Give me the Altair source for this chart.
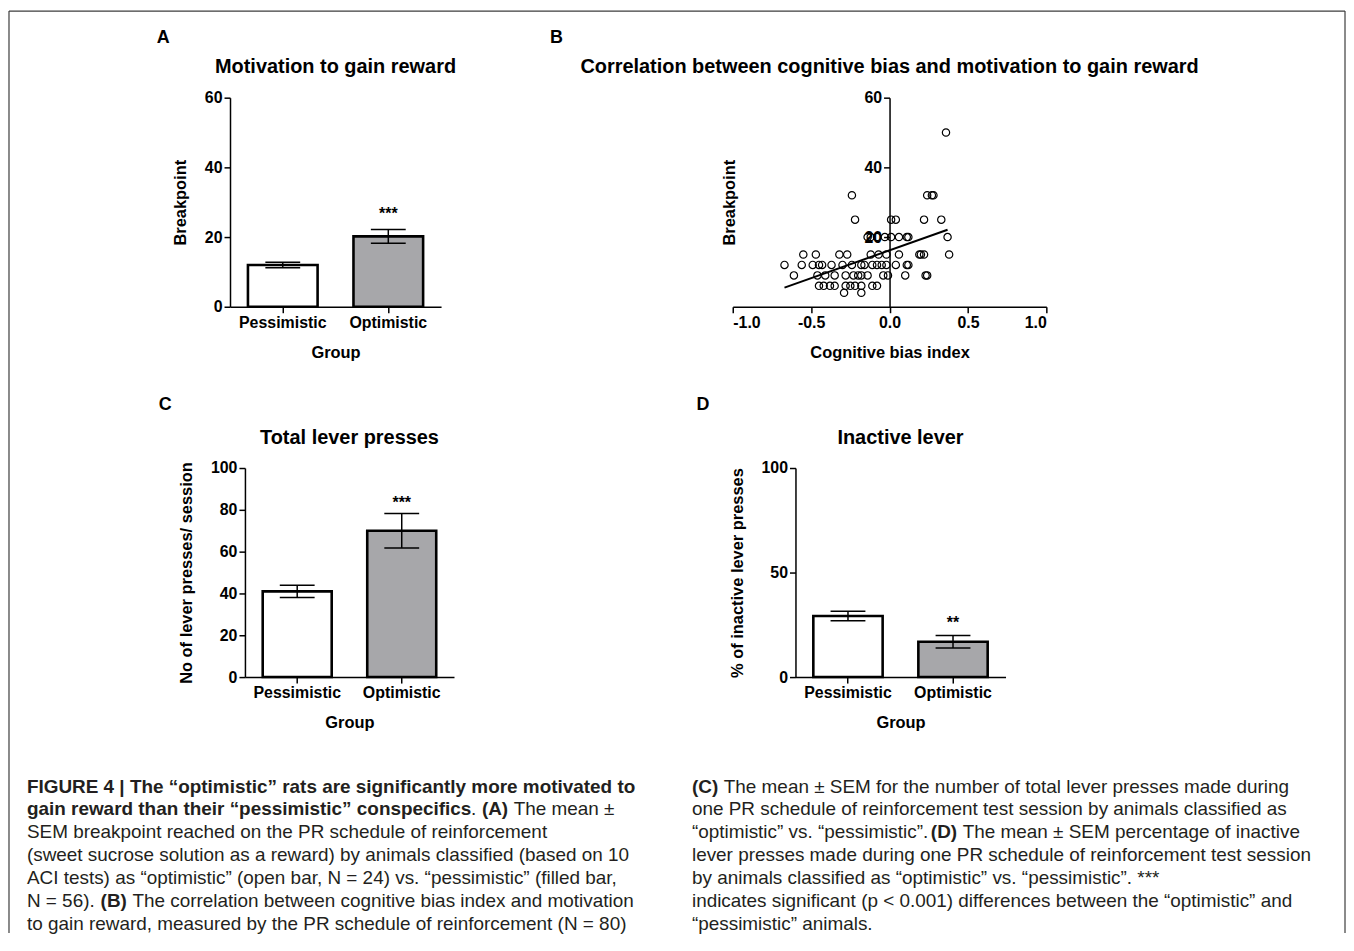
import altair as alt
import pandas as pd

FONT = "Liberation Sans"
INK = "black"
CAP_INK = "#231f20"
FRAME_INK = "#3c3c3c"

# ---------------- data ----------------
groups = ["Pessimistic", "Optimistic"]
bar_fills = ["#ffffff", "#a7a7aa"]

# A: Motivation to gain reward (breakpoint)
a_mean = [12.0, 20.2]
a_sem = [0.8, 2.0]
a_star_text = ["***"]
a_star_y = [27.6]

# C: Total lever presses
c_mean = [41.0, 70.0]
c_sem = [2.9, 8.2]
c_star_text = ["***"]
c_star_y = [84.5]

# D: Inactive lever (%)
d_mean = [29.2, 16.9]
d_sem = [2.3, 3.0]
d_star_text = ["**"]
d_star_y = [27.2]

# B: cognitive bias index vs breakpoint
bias_index = [
    0.36,
    -0.24, 0.24, 0.27, 0.28,
    -0.22, 0.01, 0.04, 0.22, 0.33,
    -0.14, -0.12, -0.08, -0.03, 0.01, 0.06, 0.11, 0.12, 0.37,
    -0.55, -0.47, -0.32, -0.27, -0.12, -0.07, -0.02, 0.06, 0.19, 0.20, 0.22, 0.38,
    -0.67, -0.56, -0.49, -0.45, -0.43, -0.37, -0.30, -0.24, -0.18, -0.16, -0.11, -0.08, -0.05, -0.02, 0.04, 0.11, 0.12,
    -0.61, -0.46, -0.41, -0.35, -0.28, -0.23, -0.20, -0.18, -0.14, -0.04, -0.01, 0.10, 0.23, 0.24,
    -0.45, -0.42, -0.38, -0.35, -0.28, -0.25, -0.22, -0.18, -0.11, -0.08,
    -0.29, -0.18,
]
breakpoint_vals = [
    50,
    32, 32, 32, 32,
    25, 25, 25, 25, 25,
    20, 20, 20, 20, 20, 20, 20, 20, 20,
    15, 15, 15, 15, 15, 15, 15, 15, 15, 15, 15, 15,
    12, 12, 12, 12, 12, 12, 12, 12, 12, 12, 12, 12, 12, 12, 12, 12, 12,
    9, 9, 9, 9, 9, 9, 9, 9, 9, 9, 9, 9, 9, 9,
    6, 6, 6, 6, 6, 6, 6, 6, 6, 6,
    4, 4,
]
fit_x = [-0.67, 0.37]
fit_y = [5.5, 22.1]

B_, N_ = "bold", "normal"
caption_left = [
    [("FIGURE 4 | The “optimistic” rats are significantly more motivated to", B_, 0)],
    [("gain reward than their “pessimistic” conspecifics", B_, 0), (".", N_, 446),
     ("(A)", B_, 457), ("The mean ±", N_, 489)],
    [("SEM breakpoint reached on the PR schedule of reinforcement", N_, 0)],
    [("(sweet sucrose solution as a reward) by animals classified (based on 10", N_, 0)],
    [("ACI tests) as “optimistic” (open bar, N = 24) vs. “pessimistic” (filled bar,", N_, 0)],
    [("N = 56).", N_, 0), ("(B)", B_, 74),
     ("The correlation between cognitive bias index and motivation", N_, 106)],
    [("to gain reward, measured by the PR schedule of reinforcement (N = 80)", N_, 0)],
]
caption_right = [
    [("(C)", B_, 0), ("The mean ± SEM for the number of total lever presses made during", N_, 32)],
    [("one PR schedule of reinforcement test session by animals classified as", N_, 0)],
    [("“optimistic” vs. “pessimistic”.", N_, 0), ("(D)", B_, 240),
     ("The mean ± SEM percentage of inactive", N_, 272)],
    [("lever presses made during one PR schedule of reinforcement test session", N_, 0)],
    [("by animals classified as “optimistic” vs. “pessimistic”. ***", N_, 0)],
    [("indicates significant (p < 0.001) differences between the “optimistic” and", N_, 0)],
    [("“pessimistic” animals.", N_, 0)],
]


def text_layer(text, tx, ty, size, align="center"):
    return alt.Chart(pd.DataFrame({"t": [text]})).mark_text(
        font=FONT, fontSize=size, fontWeight="bold", color=INK, align=align, baseline="middle"
    ).encode(text="t:N", x=alt.value(tx), y=alt.value(ty))


def bar_panel(means, sems, star_text, star_y, ymax, yvalues, ytitle, title, letter, lx, ly,
              width, ty):
    df = pd.DataFrame({"group": groups, "mean": means, "sem": sems})
    base = alt.Chart(df).transform_calculate(lo="datum.mean - datum.sem", hi="datum.mean + datum.sem")
    xax = alt.Axis(title="Group", labelAngle=0, titlePadding=14)
    xenc = alt.X("group:N", scale=alt.Scale(domain=groups, paddingInner=0.34, paddingOuter=0.17), axis=xax)
    yax = alt.Axis(title=ytitle, values=yvalues, titlePadding=16)
    ysc = alt.Scale(domain=[0, ymax], nice=False, zero=True)
    bars = base.mark_bar(stroke=INK, strokeWidth=2.6).encode(
        x=xenc, y=alt.Y("mean:Q", scale=ysc, axis=yax),
        fill=alt.Fill("group:N", scale=alt.Scale(domain=groups, range=bar_fills), legend=None))
    err = base.mark_rule(color=INK, strokeWidth=1.5).encode(
        x=xenc, y=alt.Y("lo:Q", scale=ysc, axis=yax), y2="hi:Q")
    cap_hi = base.mark_tick(color=INK, thickness=1.5, size=35, opacity=1).encode(
        x=xenc, y=alt.Y("hi:Q", scale=ysc, axis=yax))
    cap_lo = base.mark_tick(color=INK, thickness=1.5, size=35, opacity=1).encode(
        x=xenc, y=alt.Y("lo:Q", scale=ysc, axis=yax))
    sdf = pd.DataFrame({"group": ["Optimistic"], "sy": star_y, "t": star_text})
    stars = alt.Chart(sdf).mark_text(font=FONT, fontSize=16, fontWeight="bold", color=INK,
                                     baseline="middle", dy=3).encode(
        x=xenc, y=alt.Y("sy:Q", scale=ysc, axis=yax), text="t:N")
    return alt.layer(bars, err, cap_hi, cap_lo, stars,
                     text_layer(title, width / 2, ty, 20),
                     text_layer(letter, lx, ly, 18)).properties(width=width, height=210)


panel_a = bar_panel(a_mean, a_sem, a_star_text, a_star_y, 60, [0, 20, 40, 60], "Breakpoint",
                    "Motivation to gain reward", "A", -67, -60, 212, -31)
panel_c = bar_panel(c_mean, c_sem, c_star_text, c_star_y, 100, [0, 20, 40, 60, 80, 100],
                    "No of lever presses/ session", "Total lever presses", "C", -80, -63, 210, -30)
panel_d = bar_panel(d_mean, d_sem, d_star_text, d_star_y, 100, [0, 50, 100],
                    "% of inactive lever presses", "Inactive lever", "D", -93, -63, 211, -30)

# ---------------- panel B ----------------
sc_df = pd.DataFrame({"bias": bias_index, "bp": breakpoint_vals})
fit_df = pd.DataFrame({"bias": fit_x, "bp": fit_y})
xsc_b = alt.Scale(domain=[-1, 1], nice=False)
ysc_b = alt.Scale(domain=[0, 60], nice=False)
xax_b = alt.Axis(title="Cognitive bias index", values=[-1, -0.5, 0, 0.5, 1], titlePadding=14,
                 labelExpr="datum.value < 0 ? '-' + format(-datum.value, '.1f') : format(datum.value, '.1f')")
yax_b = alt.Axis(title="Breakpoint", values=[20, 40, 60], offset=-157.5, zindex=1,
                 titleX=-161, titleY=105, titleAngle=-90, titleAlign="center", titleBaseline="middle")
pts = alt.Chart(sc_df).mark_point(shape="circle", filled=False, color=INK, strokeWidth=1.2,
                                  size=54, opacity=1).encode(
    x=alt.X("bias:Q", scale=xsc_b, axis=xax_b), y=alt.Y("bp:Q", scale=ysc_b, axis=yax_b))
fit = alt.Chart(fit_df).mark_line(color=INK, strokeWidth=2).encode(
    x=alt.X("bias:Q", scale=xsc_b, axis=xax_b), y=alt.Y("bp:Q", scale=ysc_b, axis=yax_b))
panel_b = alt.layer(
    pts, fit,
    text_layer("Correlation between cognitive bias and motivation to gain reward", 157.5, -31, 20),
    text_layer("B", -177, -60, 18),
).properties(width=315, height=210)

# ---------------- caption + frame ----------------
one = pd.DataFrame({"k": [0]})
FX0, FX1, FY0, FY1 = -222, 1120, -831, 95
cap_layers = [
    alt.Chart(one).mark_rule(color=FRAME_INK, strokeWidth=1.2).encode(
        x=alt.value(FX0), y=alt.value(FY0), y2=alt.value(FY1)),
    alt.Chart(one).mark_rule(color=FRAME_INK, strokeWidth=1.2).encode(
        x=alt.value(FX1), y=alt.value(FY0), y2=alt.value(FY1)),
    alt.Chart(one).mark_rule(color=FRAME_INK, strokeWidth=1.2).encode(
        x=alt.value(FX0), x2=alt.value(FX1), y=alt.value(FY0)),
]
LINE0, LINE_STEP = -52, 23
for col_x, lines in ((-204, caption_left), (464, caption_right)):
    for i, segs in enumerate(lines):
        for text, weight, off in segs:
            cap_layers.append(
                alt.Chart(pd.DataFrame({"t": [text]})).mark_text(
                    align="left", baseline="middle", font=FONT, fontSize=19,
                    fontWeight=weight, color=CAP_INK
                ).encode(text="t:N", x=alt.value(col_x + off), y=alt.value(LINE0 + LINE_STEP * i))
            )
caption = alt.layer(*cap_layers).properties(width=1, height=1)


def spacer(w):
    return alt.Chart(pd.DataFrame({"t": [""]})).mark_text().encode(
        text="t:N", x=alt.value(0), y=alt.value(0)).properties(width=w, height=210)


row1 = alt.hconcat(panel_a, panel_b, spacing=293, bounds="flush")
row2 = alt.hconcat(spacer(15), alt.hconcat(panel_c, panel_d, spacing=343, bounds="flush"),
                   spacing=0, bounds="flush")

# nested rows count with zero height in a flush layout, so the spacing spans a whole row
chart = alt.vconcat(row1, row2, caption, spacing=372, bounds="flush").properties(
    padding=0
).configure_view(stroke=None).configure_axis(
    labelFont=FONT, labelFontSize=16, labelFontWeight="bold", labelColor=INK,
    titleFont=FONT, titleFontSize=16.5, titleFontWeight="bold", titleColor=INK,
    domainColor=INK, domainWidth=1.5, tickColor=INK, tickWidth=1.5, tickSize=6,
    labelPadding=2, grid=False
)

chart.save("out.html", embed_options={"renderer": "svg", "actions": False})
